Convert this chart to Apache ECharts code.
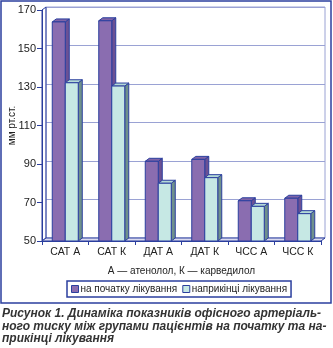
<!DOCTYPE html>
<html>
<head>
<meta charset="utf-8">
<script src="https://cdn.jsdelivr.net/npm/echarts@6/dist/echarts.min.js"></script>
<style>
  html, body { margin: 0; padding: 0; background: #fff; }
  #chart { width: 333px; height: 348px; }
</style>
</head>
<body>
<div id="chart"></div>
<script>
// Categories and values (mm Hg / beats per minute)
const categories = ['САТ А', 'САТ К', 'ДАТ А', 'ДАТ К', 'ЧСС А', 'ЧСС К'];
const startValues = [163.8, 164.4, 91.4, 92.4, 70.9, 72.2];
const endValues = [132.2, 130.5, 80.0, 82.9, 68.0, 64.2];
const seriesNames = ['на початку лікування', 'наприкінці лікування'];
const yTicks = [50, 70, 90, 110, 130, 150, 170];

const FONT = 'Liberation Sans, Arial, sans-serif';
const EDGE = '#2b3f9e';
const DX = 4, DY = -3;       // depth offset of the 3D box
const BAR_W = 13;

const palettes = [
  { front: '#8a6db0', side: '#6b5194', top: '#7e64a8' },
  { front: '#c6e8e4', side: '#6f918c', top: '#b4dad6' }
];

function boxRenderer(slot, pal) {
  return function (params, api) {
    const i = api.value(0);
    const v = api.value(1);
    const topPt = api.coord([i, v]);
    const basePt = api.coord([i, yTicks[0]]);
    const x0 = topPt[0] + (slot === 0 ? -BAR_W : 0);
    const x1 = x0 + BAR_W;
    const yt = topPt[1];
    const yb = basePt[1];
    const stroke = { stroke: EDGE, lineWidth: 1 };
    return {
      type: 'group',
      children: [
        { type: 'polygon', shape: { points: [[x1, yt], [x1 + DX, yt + DY], [x1 + DX, yb + DY], [x1, yb]] },
          style: Object.assign({ fill: pal.side }, stroke) },
        { type: 'polygon', shape: { points: [[x0, yt], [x0 + DX, yt + DY], [x1 + DX, yt + DY], [x1, yt]] },
          style: Object.assign({ fill: pal.top }, stroke) },
        { type: 'rect', shape: { x: x0, y: yt, width: BAR_W, height: yb - yt },
          style: Object.assign({ fill: pal.front }, stroke) }
      ]
    };
  };
}

const chart = echarts.init(document.getElementById('chart'), null, { renderer: 'canvas' });

const gridL = 42, gridT = 10, gridR = 12, gridB = 107;
const W = 333, H = 348;
const plotRight = W - gridR, plotBottom = H - gridB;

const yAxisCommon = { type: 'value', min: yTicks[0], max: yTicks[yTicks.length - 1], interval: 20 };

chart.setOption({
  animation: false,
  backgroundColor: '#fff',
  grid: [
    { left: gridL, top: gridT, right: gridR, bottom: gridB, outerBoundsMode: 'none', containLabel: false },
    { left: gridL + DX, top: gridT + DY, right: gridR - DX, bottom: gridB - DY, outerBoundsMode: 'none', containLabel: false,
      show: true, borderColor: '#9aa2d4', borderWidth: 1, backgroundColor: 'transparent' }
  ],
  xAxis: [
    {
      type: 'category', data: categories, gridIndex: 0,
      axisLine: { lineStyle: { color: EDGE, width: 1 } },
      axisTick: { show: true, length: 4, lineStyle: { color: EDGE } },
      axisLabel: { color: '#222', fontSize: 10.5, fontFamily: FONT, margin: 6 },
      name: 'А — атенолол, К — карведилол', nameLocation: 'middle', nameGap: 25,
      nameTextStyle: { color: '#222', fontSize: 10, fontFamily: FONT }
    },
    { type: 'category', data: categories, gridIndex: 1, show: false }
  ],
  yAxis: [
    Object.assign({}, yAxisCommon, {
      gridIndex: 0,
      axisLine: { show: true, lineStyle: { color: EDGE, width: 1 } },
      axisTick: { show: true, length: 5, lineStyle: { color: EDGE } },
      axisLabel: { color: '#222', fontSize: 11, fontFamily: FONT, margin: 6 },
      splitLine: { show: false }
    }),
    Object.assign({}, yAxisCommon, {
      gridIndex: 1,
      axisLine: { show: false }, axisTick: { show: false }, axisLabel: { show: false },
      splitLine: { show: true, lineStyle: { color: '#9aa2d4', width: 1.2 } }
    })
  ],
  legend: {
    data: seriesNames,
    orient: 'horizontal',
    left: 67, top: 281,
    padding: [3, 4, 3, 4],
    itemGap: 5,
    itemWidth: 7, itemHeight: 7,
    icon: 'rect',
    borderColor: EDGE, borderWidth: 1.5,
    textStyle: { color: '#222', fontSize: 10, fontFamily: FONT, padding: [0, 0, 0, -3] },
    itemStyle: { borderColor: EDGE, borderWidth: 1 }
  },
  series: [
    {
      type: 'custom', name: seriesNames[0], xAxisIndex: 0, yAxisIndex: 0, z: 3,
      data: startValues.map((v, i) => [i, v]),
      encode: { x: 0, y: 1 },
      itemStyle: { color: palettes[0].front, borderColor: EDGE },
      renderItem: boxRenderer(0, palettes[0])
    },
    {
      type: 'custom', name: seriesNames[1], xAxisIndex: 0, yAxisIndex: 0, z: 4,
      data: endValues.map((v, i) => [i, v]),
      encode: { x: 0, y: 1 },
      itemStyle: { color: palettes[1].front, borderColor: EDGE },
      renderItem: boxRenderer(1, palettes[1])
    }
  ],
  graphic: [
    // left wall and floor of the 3D frame
    { type: 'polygon', z: 1, silent: true,
      shape: { points: [[gridL, gridT], [gridL + DX, gridT + DY], [gridL + DX, plotBottom + DY], [gridL, plotBottom]] },
      style: { fill: 'none', stroke: EDGE, lineWidth: 1 } },
    { type: 'polygon', z: 1, silent: true,
      shape: { points: [[gridL, plotBottom], [gridL + DX, plotBottom + DY], [plotRight + DX, plotBottom + DY], [plotRight, plotBottom]] },
      style: { fill: '#dcdcf0', stroke: EDGE, lineWidth: 1 } },
    // y axis title
    { type: 'text', z: 10, silent: true, x: 12, y: (gridT + plotBottom) / 2, rotation: Math.PI / 2,
      style: { text: 'мм рт.ст.', fill: '#222', fontFamily: FONT, fontSize: 10,
               align: 'center', verticalAlign: 'middle' } },
    // outer frame
    { type: 'rect', z: 10, silent: true,
      shape: { x: 1, y: 1, width: 330, height: 302 },
      style: { fill: 'none', stroke: EDGE, lineWidth: 1.5 } },
    // caption
    { type: 'text', z: 10, left: 2, top: 308, silent: true,
      style: {
        text: 'Рисунок 1. Динаміка показників офісного артеріаль-\nного тиску між групами пацієнтів на початку та на-\nприкінці лікування',
        fill: '#333', fontFamily: FONT, fontSize: 12, fontWeight: 'bold', fontStyle: 'italic',
        lineHeight: 12.3
      } }
  ]
});
</script>
</body>
</html>
